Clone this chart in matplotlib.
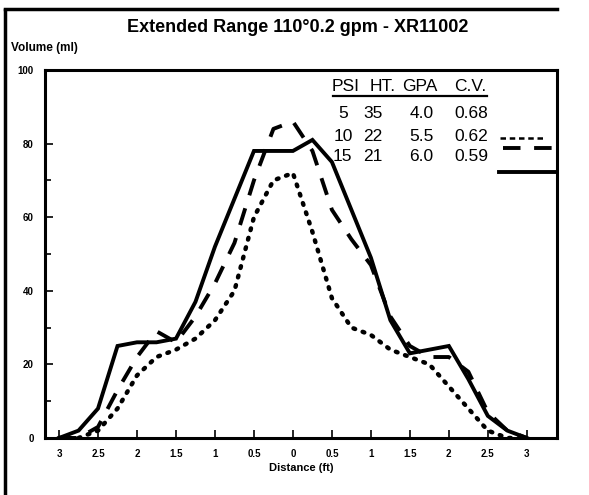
import matplotlib.pyplot as plt
from matplotlib.lines import Line2D

# distance across the boom (ft) and collected volume (ml)
distance = [-3, -2.75, -2.5, -2.25, -2, -1.75, -1.5, -1.25, -1, -0.75, -0.5, -0.25,
            0, 0.25, 0.5, 0.75, 1, 1.25, 1.5, 1.75, 2, 2.25, 2.5, 2.75, 3]
vol_5psi = [0, 0, 2, 8, 17, 22, 24, 27, 32, 40, 60, 70,
            72, 56, 38, 30, 28, 24, 22, 20, 14, 8, 2, 0, 0]
vol_10psi = [0, 0, 3, 13, 22, 29, 26, 33, 42, 53, 70, 84,
             86, 78, 62, 54, 47, 33, 25, 22, 22, 18, 7, 2, 0]
vol_15psi = [0, 2, 8, 25, 26, 26, 27, 37, 52, 65, 78, 78,
             78, 81, 75, 62, 49, 32, 23, 24, 25, 16, 6, 2, 0]

table_header = ['PSI', 'HT.', 'GPA', 'C.V.']
table_rows = [['5', '35', '4.0', '0.68'],
              ['10', '22', '5.5', '0.62'],
              ['15', '21', '6.0', '0.59']]

x_ticks = [-3, -2.5, -2, -1.5, -1, -0.5, 0, 0.5, 1, 1.5, 2, 2.5, 3]
x_ticklabels = ['3', '2.5', '2', '1.5', '1', '0.5', '0', '0.5', '1', '1.5', '2', '2.5', '3']
y_ticks = [0, 20, 40, 60, 80, 100]

plt.rcParams['font.family'] = ['Liberation Sans', 'DejaVu Sans']

fig = plt.figure(figsize=(5.89, 4.95), dpi=100)
ax = fig.add_axes([0.0764, 0.1152, 0.869, 0.7434])

ax.plot(distance, vol_5psi, color='black', lw=3.2, linestyle=(0, (0.4, 1.8)),
        dash_capstyle='round')
ax.plot(distance, vol_10psi, color='black', lw=2.8, linestyle=(0, (4.5, 3.5)))
ax.plot(distance, vol_15psi, color='black', lw=2.8, solid_joinstyle='miter')

ax.set_xlim(-3.18, 3.385)
ax.set_ylim(0, 100)

ax.set_xticks(x_ticks)
ax.set_xticklabels(x_ticklabels, fontsize=7, fontweight='bold')
ax.set_yticks(y_ticks)
ax.set_yticklabels([str(v) for v in y_ticks], fontsize=7, fontweight='bold')
ax.set_yticks([10, 30, 50, 70], minor=True)
ax.tick_params(axis='both', which='both', direction='in', width=1.2, pad=8)
ax.tick_params(axis='both', which='major', length=6)
ax.tick_params(axis='y', which='minor', length=4)
for s in ax.spines.values():
    s.set_linewidth(2.2)

ax.set_xlabel('Distance (ft)', fontsize=8, fontweight='bold', labelpad=3)
fig.text(0.019, 0.903, 'Volume (ml)', fontsize=8.5, fontweight='bold', va='center')
fig.text(0.505, 0.945, 'Extended Range 110°0.2 gpm - XR11002', fontsize=13,
         fontweight='bold', ha='center', va='center')

# table-style legend
header_x = [0.68, 1.15, 1.63, 2.27]
col_x = [0.64, 1.03, 1.65, 2.29]
row_y = [88.3, 81.8, 76.4]
for cx, h in zip(header_x, table_header):
    ax.text(cx, 95.4, h, ha='center', va='center', fontsize=12.5)
ax.plot([0.51, 2.49], [93.0, 93.0], color='black', lw=1.6, clip_on=False)
for ry, row in zip(row_y, table_rows):
    for cx, v in zip(col_x, row):
        ax.text(cx, ry, v, ha='center', va='center', fontsize=12.5)

ax.plot([2.65, 3.22], [81.5, 81.5], color='black', lw=1.8, linestyle=(0, (2.2, 1.5)))
ax.plot([2.69, 3.385], [78.8, 78.8], color='black', lw=2.8, linestyle=(0, (4.5, 3.5)))
ax.plot([2.64, 3.385], [72.3, 72.3], color='black', lw=2.8)

# outer frame of the scanned page
fig.add_artist(Line2D([0.008, 0.008], [0.0, 0.98], color='black', lw=2.5))
fig.add_artist(Line2D([0.008, 0.945], [0.982, 0.982], color='black', lw=2.5))

fig.savefig('out.png', dpi=100)
